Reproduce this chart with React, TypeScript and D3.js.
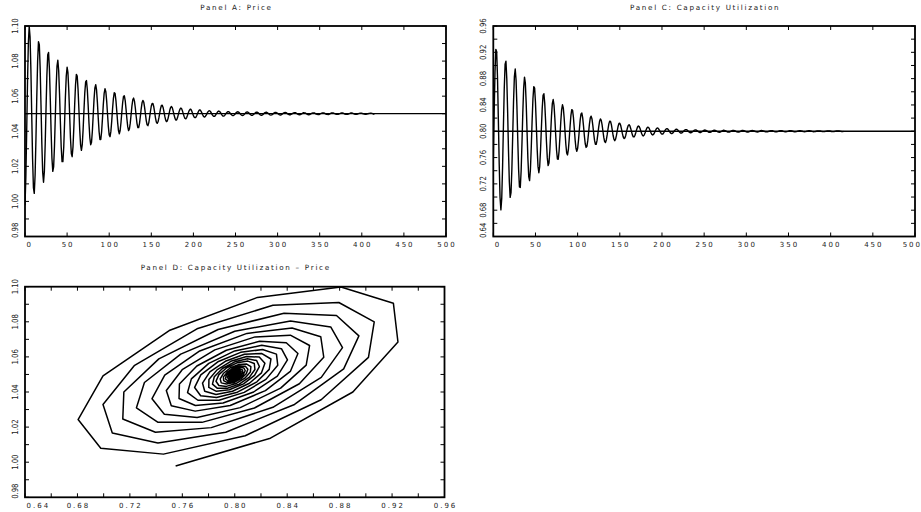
import React from "react";
import * as d3 from "d3";

// ---------- data ----------
const priceSeries: number[] = [
  0.9978, 1.0137, 1.0400, 1.0685, 1.0906, 1.0998, 1.0939, 1.0750, 1.0492, 1.0243,
  1.0079, 1.0046, 1.0151, 1.0356, 1.0597, 1.0800, 1.0910, 1.0894, 1.0760, 1.0550,
  1.0329, 1.0166, 1.0109, 1.0171, 1.0329, 1.0532, 1.0720, 1.0836, 1.0849, 1.0756,
  1.0589, 1.0400, 1.0246, 1.0171, 1.0197, 1.0313, 1.0483, 1.0653, 1.0771, 1.0805,
  1.0746, 1.0616, 1.0454, 1.0310, 1.0227,
  1.0227, 1.0309, 1.0447, 1.0598, 1.0715, 1.0765, 1.0734, 1.0634, 1.0496, 1.0362,
  1.0273, 1.0255, 1.0311, 1.0422, 1.0553, 1.0665, 1.0724, 1.0714, 1.0640, 1.0527,
  1.0409, 1.0322, 1.0291, 1.0323, 1.0408, 1.0517, 1.0619, 1.0681, 1.0689, 1.0638,
  1.0548, 1.0446, 1.0363, 1.0323, 1.0337, 1.0400, 1.0491, 1.0583, 1.0647, 1.0666,
  1.0634, 1.0563, 1.0475, 1.0397, 1.0353,
  1.0353, 1.0398, 1.0472, 1.0553, 1.0616, 1.0642, 1.0626, 1.0572, 1.0498, 1.0426,
  1.0379, 1.0369, 1.0399, 1.0458, 1.0529, 1.0588, 1.0620, 1.0615, 1.0575, 1.0515,
  1.0451, 1.0404, 1.0386, 1.0404, 1.0450, 1.0509, 1.0564, 1.0599, 1.0602, 1.0575,
  1.0526, 1.0471, 1.0426, 1.0404, 1.0413, 1.0446, 1.0495, 1.0545, 1.0579, 1.0589,
  1.0572, 1.0534, 1.0487, 1.0445, 1.0421,
  1.0421, 1.0445, 1.0485, 1.0528, 1.0562, 1.0576, 1.0567, 1.0538, 1.0499, 1.0461,
  1.0437, 1.0432, 1.0448, 1.0479, 1.0514, 1.0544, 1.0559, 1.0557, 1.0538, 1.0507,
  1.0475, 1.0452, 1.0445, 1.0454, 1.0476, 1.0504, 1.0530, 1.0547, 1.0548, 1.0536,
  1.0512, 1.0486, 1.0465, 1.0455, 1.0459, 1.0475, 1.0498, 1.0521, 1.0537, 1.0541,
  1.0533, 1.0515, 1.0494, 1.0475, 1.0464,
  1.0464, 1.0475, 1.0493, 1.0512, 1.0526, 1.0532, 1.0529, 1.0516, 1.0499, 1.0484,
  1.0473, 1.0471, 1.0478, 1.0491, 1.0506, 1.0518, 1.0525, 1.0525, 1.0516, 1.0503,
  1.0489, 1.0480, 1.0477, 1.0480, 1.0490, 1.0502, 1.0513, 1.0521, 1.0521, 1.0515,
  1.0505, 1.0494, 1.0485, 1.0481, 1.0483, 1.0490, 1.0499, 1.0509, 1.0515, 1.0517,
  1.0514, 1.0507, 1.0497, 1.0490, 1.0485,
  1.0485, 1.0489, 1.0497, 1.0505, 1.0512, 1.0515, 1.0513, 1.0508, 1.0500, 1.0492,
  1.0487, 1.0486, 1.0490, 1.0496, 1.0503, 1.0508, 1.0512, 1.0511, 1.0508, 1.0501,
  1.0495, 1.0491, 1.0489, 1.0491, 1.0495, 1.0501, 1.0507, 1.0510, 1.0511, 1.0508,
  1.0503, 1.0497, 1.0492, 1.0490, 1.0491, 1.0494, 1.0499, 1.0505, 1.0509, 1.0510,
  1.0508, 1.0504, 1.0498, 1.0494, 1.0491,
  1.0491, 1.0494, 1.0498, 1.0503, 1.0507, 1.0509, 1.0508, 1.0505, 1.0500, 1.0495,
  1.0492, 1.0491, 1.0493, 1.0497, 1.0502, 1.0506, 1.0508, 1.0508, 1.0505, 1.0501,
  1.0497, 1.0493, 1.0492, 1.0493, 1.0496, 1.0501, 1.0505, 1.0507, 1.0507, 1.0505,
  1.0502, 1.0498, 1.0494, 1.0493, 1.0493, 1.0496, 1.0500, 1.0503, 1.0506, 1.0507,
  1.0506, 1.0503, 1.0499, 1.0496, 1.0494,
  1.0494, 1.0496, 1.0499, 1.0502, 1.0505, 1.0506, 1.0506, 1.0503, 1.0500, 1.0497,
  1.0495, 1.0494, 1.0495, 1.0498, 1.0501, 1.0504, 1.0506, 1.0505, 1.0504, 1.0501,
  1.0498, 1.0495, 1.0494, 1.0495, 1.0498, 1.0500, 1.0503, 1.0505, 1.0505, 1.0504,
  1.0501, 1.0498, 1.0496, 1.0495, 1.0495, 1.0497, 1.0500, 1.0502, 1.0504, 1.0505,
  1.0504, 1.0502, 1.0499, 1.0497, 1.0496,
  1.0495, 1.0497, 1.0499, 1.0502, 1.0504, 1.0505, 1.0504, 1.0502, 1.0500, 1.0498,
  1.0496, 1.0496, 1.0497, 1.0499, 1.0501, 1.0503, 1.0504, 1.0504, 1.0503, 1.0501,
  1.0498, 1.0497, 1.0496, 1.0497, 1.0498, 1.0500, 1.0502, 1.0504, 1.0504, 1.0503,
  1.0501, 1.0499, 1.0497, 1.0496, 1.0497, 1.0498, 1.0500, 1.0502, 1.0503, 1.0503,
  1.0503, 1.0501, 1.0499, 1.0498, 1.0497,
  1.0497, 1.0498, 1.0499, 1.0501, 1.0502, 1.0503, 1.0503, 1.0502, 1.0500, 1.0498,
  1.0497,
];

const capacitySeries: number[] = [
  0.7549, 0.8272, 0.8901, 0.9245, 0.9210, 0.8810, 0.8173, 0.7500, 0.6995, 0.6805,
  0.6978, 0.7456, 0.8080, 0.8659, 0.9020, 0.9064, 0.8794, 0.8291, 0.7712, 0.7233,
  0.6995, 0.7066, 0.7414, 0.7931, 0.8456, 0.8831, 0.8947, 0.8776, 0.8376, 0.7873,
  0.7421, 0.7154, 0.7146, 0.7395, 0.7821, 0.8291, 0.8660, 0.8822, 0.8732, 0.8425,
  0.8000, 0.7588, 0.7311, 0.7250, 0.7415,
  0.7750, 0.8150, 0.8493, 0.8679, 0.8656, 0.8437, 0.8093, 0.7733, 0.7466, 0.7369,
  0.7463, 0.7713, 0.8042, 0.8350, 0.8545, 0.8571, 0.8424, 0.8155, 0.7848, 0.7599,
  0.7478, 0.7516, 0.7698, 0.7965, 0.8234, 0.8424, 0.8482, 0.8393, 0.8190, 0.7936,
  0.7711, 0.7578, 0.7575, 0.7700, 0.7911, 0.8144, 0.8325, 0.8402, 0.8356, 0.8206,
  0.8000, 0.7802, 0.7669, 0.7640, 0.7719,
  0.7880, 0.8072, 0.8238, 0.8328, 0.8318, 0.8212, 0.8045, 0.7871, 0.7741, 0.7694,
  0.7740, 0.7861, 0.8020, 0.8169, 0.8263, 0.8276, 0.8204, 0.8074, 0.7928, 0.7810,
  0.7754, 0.7771, 0.7857, 0.7983, 0.8112, 0.8204, 0.8230, 0.8187, 0.8090, 0.7970,
  0.7865, 0.7803, 0.7802, 0.7860, 0.7959, 0.8067, 0.8151, 0.8188, 0.8167, 0.8097,
  0.8000, 0.7906, 0.7844, 0.7830, 0.7868,
  0.7944, 0.8034, 0.8112, 0.8154, 0.8149, 0.8100, 0.8021, 0.7939, 0.7879, 0.7857,
  0.7879, 0.7936, 0.8009, 0.8077, 0.8119, 0.8123, 0.8091, 0.8033, 0.7967, 0.7915,
  0.7889, 0.7897, 0.7936, 0.7993, 0.8049, 0.8088, 0.8100, 0.8081, 0.8039, 0.7987,
  0.7941, 0.7914, 0.7915, 0.7940, 0.7982, 0.8028, 0.8064, 0.8080, 0.8070, 0.8041,
  0.8000, 0.7961, 0.7935, 0.7929, 0.7946,
  0.7977, 0.8014, 0.8045, 0.8062, 0.8059, 0.8039, 0.8008, 0.7976, 0.7953, 0.7944,
  0.7952, 0.7975, 0.8004, 0.8031, 0.8047, 0.8049, 0.8036, 0.8013, 0.7987, 0.7966,
  0.7956, 0.7959, 0.7975, 0.7997, 0.8020, 0.8036, 0.8040, 0.8032, 0.8015, 0.7995,
  0.7976, 0.7966, 0.7966, 0.7976, 0.7993, 0.8011, 0.8025, 0.8032, 0.8028, 0.8016,
  0.8000, 0.7985, 0.7974, 0.7972, 0.7978,
  0.7991, 0.8006, 0.8018, 0.8025, 0.8024, 0.8016, 0.8003, 0.7990, 0.7981, 0.7977,
  0.7981, 0.7990, 0.8001, 0.8012, 0.8019, 0.8020, 0.8015, 0.8006, 0.7995, 0.7986,
  0.7981, 0.7982, 0.7989, 0.7999, 0.8008, 0.8016, 0.8018, 0.8015, 0.8007, 0.7998,
  0.7989, 0.7984, 0.7984, 0.7988, 0.7996, 0.8006, 0.8013, 0.8017, 0.8014, 0.8008,
  0.8000, 0.7992, 0.7987, 0.7985, 0.7988,
  0.7995, 0.8003, 0.8010, 0.8015, 0.8014, 0.8009, 0.8002, 0.7994, 0.7988, 0.7986,
  0.7988, 0.7993, 0.8001, 0.8008, 0.8013, 0.8013, 0.8010, 0.8004, 0.7996, 0.7990,
  0.7987, 0.7988, 0.7992, 0.7999, 0.8006, 0.8011, 0.8012, 0.8010, 0.8005, 0.7998,
  0.7992, 0.7989, 0.7988, 0.7992, 0.7998, 0.8004, 0.8009, 0.8011, 0.8010, 0.8006,
  0.8000, 0.7994, 0.7990, 0.7989, 0.7991,
  0.7996, 0.8002, 0.8008, 0.8011, 0.8010, 0.8006, 0.8002, 0.7996, 0.7991, 0.7990,
  0.7991, 0.7995, 0.8001, 0.8006, 0.8009, 0.8010, 0.8007, 0.8003, 0.7997, 0.7993,
  0.7991, 0.7991, 0.7994, 0.7999, 0.8004, 0.8008, 0.8009, 0.8007, 0.8004, 0.7999,
  0.7995, 0.7992, 0.7992, 0.7994, 0.7998, 0.8003, 0.8007, 0.8008, 0.8007, 0.8004,
  0.8000, 0.7996, 0.7993, 0.7992, 0.7994,
  0.7997, 0.8002, 0.8005, 0.8008, 0.8007, 0.8005, 0.8001, 0.7997, 0.7994, 0.7992,
  0.7994, 0.7997, 0.8001, 0.8004, 0.8007, 0.8007, 0.8005, 0.8002, 0.7998, 0.7995,
  0.7993, 0.7994, 0.7996, 0.8000, 0.8003, 0.8006, 0.8006, 0.8005, 0.8003, 0.7999,
  0.7996, 0.7994, 0.7994, 0.7996, 0.7999, 0.8002, 0.8005, 0.8006, 0.8005, 0.8003,
  0.8000, 0.7997, 0.7995, 0.7994, 0.7995,
  0.7998, 0.8001, 0.8004, 0.8005, 0.8005, 0.8003, 0.8001, 0.7998, 0.7996, 0.7995,
  0.7996,
];

const steadyPrice = 1.05;
const steadyCapacity = 0.8;

const timeLabels = ["0", "50", "100", "150", "200", "250", "300", "350", "400", "450", "500"];
const priceLabels = ["0.98", "1.00", "1.02", "1.04", "1.06", "1.08", "1.10"];
const capacityLabels = ["0.64", "0.68", "0.72", "0.76", "0.80", "0.84", "0.88", "0.92", "0.96"];
const priceMinorTicks = [0.98, 0.99, 1.0, 1.01, 1.02, 1.03, 1.04, 1.05, 1.06, 1.07, 1.08, 1.09, 1.1];
const capacityMinorTicks = [0.64, 0.66, 0.68, 0.7, 0.72, 0.74, 0.76, 0.78, 0.8, 0.82, 0.84, 0.86, 0.88, 0.9, 0.92, 0.94, 0.96];

const titleA = "Panel A: Price";
const titleC = "Panel C: Capacity Utilization";
const titleD = "Panel D: Capacity Utilization \u2013 Price";

// ---------- styling ----------
const FONT = "'DejaVu Sans', 'Liberation Sans', sans-serif";
const TEXT = "#222";
const PAGE_W = 921;

type Scale = d3.ScaleLinear<number, number>;

type PanelProps = {
  id: string;
  x: Scale;
  y: Scale;
  xTicks: number[];
  yTicks: number[];
  xLabels: string[];
  yLabels: string[];
  title: string;
  children: React.ReactNode;
};

function Panel({ id, x, y, xTicks, yTicks, xLabels, yLabels, title, children }: PanelProps) {
  const [left, right] = x.range();
  const [bottom, top] = y.range();
  const tl = 4;
  return (
    <g>
      <text
        x={(left + right) / 2 + 1}
        y={top - 16.5}
        textAnchor="middle"
        fontFamily={FONT}
        fontSize={7.2}
        letterSpacing={1.7}
        fill={TEXT}
      >
        {title}
      </text>
      <defs>
        <clipPath id={id}>
          <rect x={left} y={top} width={right - left} height={bottom - top} />
        </clipPath>
      </defs>
      <g clipPath={`url(#${id})`}>{children}</g>
      {xTicks.map((v) => (
        <g key={`xt${v}`} stroke="#000" strokeWidth={1}>
          <line x1={x(v)} x2={x(v)} y1={top} y2={top + tl} />
          <line x1={x(v)} x2={x(v)} y1={bottom} y2={bottom - tl} />
        </g>
      ))}
      {yTicks.map((v) => (
        <g key={`yt${v}`} stroke="#000" strokeWidth={1}>
          <line x1={left} x2={left + tl} y1={y(v)} y2={y(v)} />
          <line x1={right} x2={right - tl} y1={y(v)} y2={y(v)} />
        </g>
      ))}
      <rect
        x={left}
        y={top}
        width={right - left}
        height={bottom - top}
        fill="none"
        stroke="#000"
        strokeWidth={1.8}
      />
      {xLabels.map((s) => {
        const v = +s;
        const px = x(v);
        const atLeft = Math.abs(px - left) < 1;
        const overRight = px + 10 > PAGE_W;
        let anchor: "start" | "middle" | "end" = "middle";
        let lx = px + 1;
        if (atLeft) {
          anchor = "start";
          lx = left + 1.5;
        } else if (overRight) {
          anchor = "end";
          lx = PAGE_W + 1;
        }
        return (
          <text
            key={`xl${s}`}
            x={lx}
            y={bottom + 10.7}
            textAnchor={anchor}
            fontFamily={FONT}
            fontSize={7}
            letterSpacing={2}
            fill={TEXT}
          >
            {s}
          </text>
        );
      })}
      {yLabels.map((s) => {
        const v = +s;
        const py = y(v);
        const atBottom = Math.abs(py - bottom) < 1;
        const cx = left - 10;
        const cy = atBottom ? bottom + 1.5 : py;
        return (
          <text
            key={`yl${s}`}
            transform={`translate(${cx},${cy}) rotate(-90) scale(0.8,1)`}
            dy="0.35em"
            textAnchor={atBottom ? "start" : "middle"}
            fontFamily={FONT}
            fontSize={8.6}
            fill={TEXT}
          >
            {s}
          </text>
        );
      })}
    </g>
  );
}

export default function App() {
  const idx = d3.range(priceSeries.length);

  // Panel A
  const xA = d3.scaleLinear().domain([0, 500]).range([25, 446]);
  const yA = d3.scaleLinear().domain([0.98, 1.1]).range([236.5, 26]);
  const lineA = d3
    .line<number>()
    .x((i) => xA(i))
    .y((i) => yA(priceSeries[i]));

  // Panel C
  const xC = d3.scaleLinear().domain([0, 500]).range([493.3, 915]);
  const yC = d3.scaleLinear().domain([0.64, 0.96]).range([236.5, 26]);
  const lineC = d3
    .line<number>()
    .x((i) => xC(i))
    .y((i) => yC(capacitySeries[i]));

  // Panel D
  const xD = d3.scaleLinear().domain([0.64, 0.96]).range([25, 444.5]);
  const yD = d3.scaleLinear().domain([0.98, 1.1]).range([497.3, 286.7]);
  const lineD = d3
    .line<number>()
    .x((i) => xD(capacitySeries[i]))
    .y((i) => yD(priceSeries[i]));

  const timeTicks = timeLabels.map(Number);

  return (
    <svg
      width={921}
      height={512}
      viewBox="0 0 921 512"
      style={{ position: "absolute", left: 0, top: 0, background: "#fff" }}
    >
      <rect x={0} y={0} width={921} height={512} fill="#fff" />
      <Panel
        id="clipA"
        x={xA}
        y={yA}
        xTicks={timeTicks}
        yTicks={priceMinorTicks}
        xLabels={timeLabels}
        yLabels={priceLabels}
        title={titleA}
      >
        <line x1={xA(0)} x2={xA(500)} y1={yA(steadyPrice)} y2={yA(steadyPrice)} stroke="#000" strokeWidth={1.3} />
        <path d={lineA(idx) ?? ""} fill="none" stroke="#000" strokeWidth={1.4} strokeLinejoin="round" />
      </Panel>
      <Panel
        id="clipC"
        x={xC}
        y={yC}
        xTicks={timeTicks}
        yTicks={capacityMinorTicks}
        xLabels={timeLabels}
        yLabels={capacityLabels}
        title={titleC}
      >
        <line x1={xC(0)} x2={xC(500)} y1={yC(steadyCapacity)} y2={yC(steadyCapacity)} stroke="#000" strokeWidth={1.3} />
        <path d={lineC(idx) ?? ""} fill="none" stroke="#000" strokeWidth={1.4} strokeLinejoin="round" />
      </Panel>
      <Panel
        id="clipD"
        x={xD}
        y={yD}
        xTicks={capacityMinorTicks}
        yTicks={priceMinorTicks}
        xLabels={capacityLabels}
        yLabels={priceLabels}
        title={titleD}
      >
        <path d={lineD(idx) ?? ""} fill="none" stroke="#000" strokeWidth={1.5} strokeLinejoin="round" />
      </Panel>
    </svg>
  );
}
